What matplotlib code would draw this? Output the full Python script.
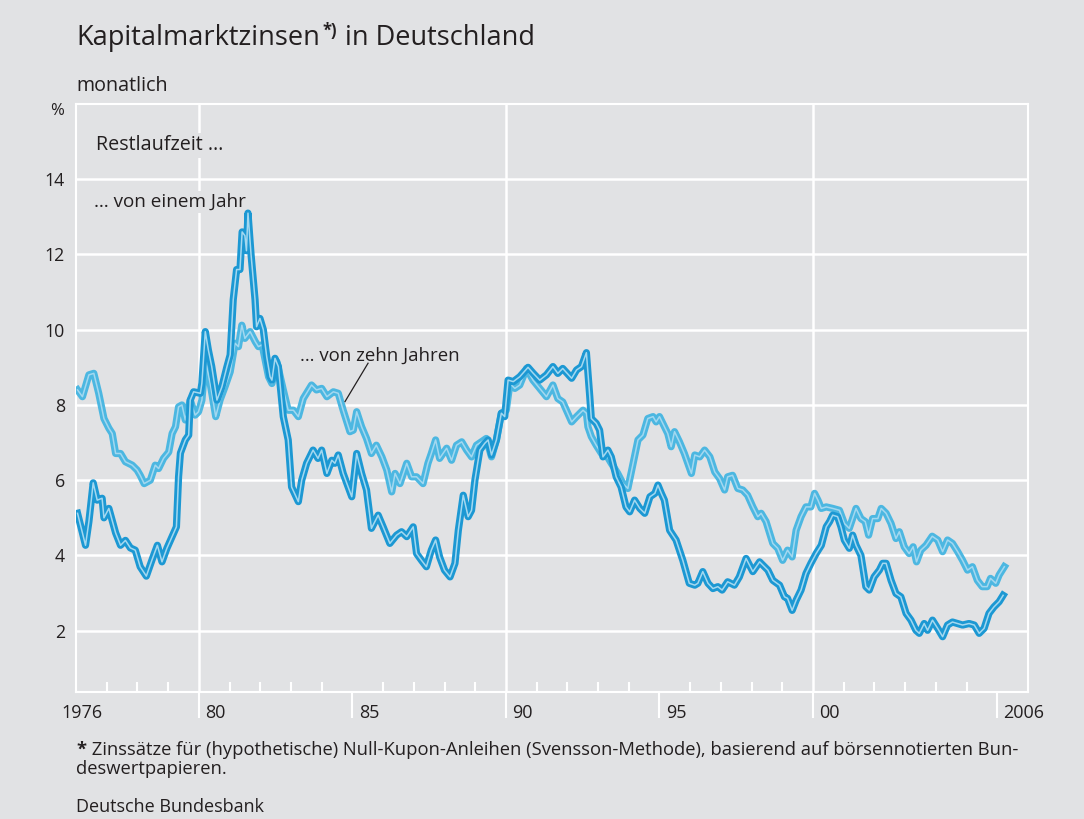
import matplotlib.pyplot as plt
from matplotlib.ticker import FixedLocator

plt.rcParams['font.family'] = ['Open Sans', 'DejaVu Sans']

# Restlaufzeit 1 Jahr (monatlich)
jahr_1j = [1976.05, 1976.31, 1976.42, 1976.56, 1976.69, 1976.85, 1976.91, 1977.07, 1977.29, 1977.45,
           1977.61, 1977.77, 1977.93, 1978.09, 1978.29, 1978.47, 1978.65, 1978.80, 1978.96, 1979.13,
           1979.27, 1979.34, 1979.40, 1979.56, 1979.67, 1979.72, 1979.83, 1980.05, 1980.10, 1980.21,
           1980.31, 1980.42, 1980.59, 1980.75, 1980.91, 1981.02, 1981.12, 1981.23, 1981.34, 1981.41,
           1981.50, 1981.55, 1981.60, 1981.70, 1981.83, 1981.88, 1981.99, 1982.10, 1982.21, 1982.32,
           1982.38, 1982.48, 1982.59, 1982.75, 1982.91, 1983.02, 1983.24, 1983.35, 1983.51, 1983.72,
           1983.88, 1984.00, 1984.17, 1984.33, 1984.43, 1984.54, 1984.70, 1984.98, 1985.14, 1985.30,
           1985.46, 1985.62, 1985.84, 1986.00, 1986.22, 1986.44, 1986.60, 1986.77, 1986.98, 1987.09,
           1987.25, 1987.41, 1987.57, 1987.71, 1987.84, 1988.00, 1988.18, 1988.34, 1988.45, 1988.61,
           1988.77, 1988.88, 1988.99, 1989.15, 1989.31, 1989.42, 1989.53, 1989.69, 1989.85, 1989.96,
           1990.07, 1990.24, 1990.45, 1990.72, 1990.88, 1991.10, 1991.32, 1991.53, 1991.69, 1991.85,
           1992.14, 1992.30, 1992.46, 1992.62, 1992.73, 1992.78, 1992.94, 1993.05, 1993.16, 1993.32,
           1993.43, 1993.59, 1993.75, 1993.91, 1994.03, 1994.19, 1994.36, 1994.52, 1994.69, 1994.85,
           1994.95, 1995.06, 1995.16, 1995.33, 1995.54, 1995.76, 1995.97, 1996.15, 1996.25, 1996.41,
           1996.58, 1996.74, 1996.90, 1997.04, 1997.22, 1997.44, 1997.60, 1997.82, 1998.04, 1998.26,
           1998.53, 1998.69, 1998.91, 1999.07, 1999.17, 1999.32, 1999.45, 1999.61, 1999.77, 1999.93,
           2000.10, 2000.27, 2000.43, 2000.54, 2000.64, 2000.80, 2000.91, 2001.02, 2001.18, 2001.29,
           2001.40, 2001.56, 2001.72, 2001.83, 2001.99, 2002.16, 2002.27, 2002.38, 2002.54, 2002.70,
           2002.86, 2003.03, 2003.19, 2003.35, 2003.46, 2003.62, 2003.73, 2003.89, 2004.06, 2004.22,
           2004.38, 2004.54, 2004.71, 2004.87, 2005.08, 2005.25, 2005.41, 2005.57, 2005.73, 2005.89,
           2006.06, 2006.19]
zins_1j = [5.12, 4.27, 4.90, 5.93, 5.47, 5.52, 5.00, 5.25, 4.60, 4.27,
           4.40, 4.20, 4.14, 3.70, 3.45, 3.87, 4.27, 3.83, 4.19, 4.50,
           4.76, 6.09, 6.72, 7.07, 7.20, 8.13, 8.35, 8.31, 8.58, 9.95,
           9.46, 9.02, 8.13, 8.48, 9.00, 9.33, 10.80, 11.60, 11.60, 12.60,
           12.50, 12.10, 13.10, 12.00, 10.80, 10.08, 10.30, 10.00, 9.28, 8.75,
           8.66, 9.24, 9.02, 7.69, 7.07, 5.82, 5.43, 6.00, 6.45, 6.80,
           6.58, 6.80, 6.18, 6.53, 6.45, 6.67, 6.18, 5.56, 6.71, 6.18,
           5.74, 4.72, 5.07, 4.76, 4.32, 4.54, 4.63, 4.50, 4.76, 4.05,
           3.87, 3.70, 4.14, 4.41, 3.96, 3.61, 3.43, 3.79, 4.67, 5.60,
           5.03, 5.20, 6.00, 6.80, 6.98, 7.07, 6.67, 7.07, 7.78, 7.69,
           8.66, 8.62, 8.75, 9.00, 8.85, 8.66, 8.80, 9.02, 8.84, 8.97,
           8.71, 8.93, 9.02, 9.39, 8.22, 7.64, 7.51, 7.33, 6.62, 6.80,
           6.62, 6.09, 5.82, 5.29, 5.16, 5.47, 5.25, 5.12, 5.56, 5.65,
           5.87, 5.65, 5.47, 4.67, 4.41, 3.87, 3.26, 3.21, 3.26, 3.57,
           3.26, 3.12, 3.17, 3.08, 3.30, 3.21, 3.43, 3.92, 3.57, 3.83,
           3.61, 3.34, 3.21, 2.90, 2.86, 2.54, 2.81, 3.08, 3.52, 3.79,
           4.05, 4.27, 4.76, 4.90, 5.07, 5.03, 4.76, 4.41, 4.19, 4.54,
           4.27, 4.00, 3.17, 3.08, 3.43, 3.61, 3.79, 3.79, 3.34, 2.99,
           2.90, 2.46, 2.28, 2.01, 1.93, 2.19, 2.01, 2.28, 2.06, 1.84,
           2.15, 2.23, 2.19, 2.15, 2.19, 2.15, 1.93, 2.06, 2.46, 2.63,
           2.77, 2.94]

# Restlaufzeit 10 Jahre
jahr_10j = [1976.05, 1976.21, 1976.42, 1976.58, 1976.74, 1976.91, 1977.07, 1977.18, 1977.29, 1977.45,
            1977.61, 1977.83, 1977.99, 1978.09, 1978.22, 1978.42, 1978.58, 1978.69, 1978.85, 1979.02,
            1979.13, 1979.24, 1979.34, 1979.45, 1979.56, 1979.72, 1979.88, 1979.99, 1980.10, 1980.21,
            1980.37, 1980.55, 1980.69, 1980.85, 1981.02, 1981.18, 1981.29, 1981.40, 1981.50, 1981.67,
            1981.84, 1981.94, 1982.06, 1982.27, 1982.38, 1982.54, 1982.75, 1982.91, 1983.08, 1983.24,
            1983.40, 1983.67, 1983.83, 1984.00, 1984.17, 1984.38, 1984.54, 1984.70, 1984.92, 1985.03,
            1985.14, 1985.30, 1985.46, 1985.62, 1985.78, 1985.96, 1986.12, 1986.28, 1986.39, 1986.55,
            1986.77, 1986.93, 1987.09, 1987.30, 1987.46, 1987.57, 1987.71, 1987.84, 1988.07, 1988.23,
            1988.39, 1988.56, 1988.72, 1988.88, 1989.04, 1989.20, 1989.36, 1989.53, 1989.69, 1989.85,
            1990.01, 1990.13, 1990.29, 1990.45, 1990.67, 1990.88, 1991.10, 1991.32, 1991.53, 1991.69,
            1991.85, 1992.14, 1992.30, 1992.51, 1992.62, 1992.67, 1992.78, 1992.94, 1993.11, 1993.27,
            1993.43, 1993.64, 1993.81, 1993.97, 1994.14, 1994.30, 1994.46, 1994.62, 1994.79, 1994.89,
            1995.00, 1995.16, 1995.27, 1995.38, 1995.49, 1995.65, 1995.81, 1996.04, 1996.15, 1996.31,
            1996.47, 1996.64, 1996.80, 1996.96, 1997.12, 1997.22, 1997.38, 1997.55, 1997.71, 1997.87,
            1998.04, 1998.20, 1998.31, 1998.47, 1998.69, 1998.85, 1999.01, 1999.17, 1999.32, 1999.45,
            1999.61, 1999.77, 1999.93, 2000.05, 2000.16, 2000.27, 2000.43, 2000.64, 2000.86, 2001.02,
            2001.18, 2001.40, 2001.56, 2001.70, 2001.81, 2001.94, 2002.11, 2002.22, 2002.38, 2002.54,
            2002.70, 2002.81, 2002.97, 2003.13, 2003.26, 2003.37, 2003.51, 2003.68, 2003.88, 2004.06,
            2004.22, 2004.38, 2004.54, 2004.71, 2004.87, 2005.03, 2005.19, 2005.35, 2005.51, 2005.67,
            2005.78, 2005.95, 2006.06, 2006.23]
zins_10j = [8.40, 8.22, 8.80, 8.84, 8.31, 7.64, 7.38, 7.24, 6.71, 6.71,
            6.49, 6.40, 6.27, 6.13, 5.91, 6.00, 6.40, 6.31, 6.58, 6.75,
            7.24, 7.42, 7.95, 8.00, 7.60, 8.13, 7.73, 7.82, 8.13, 9.20,
            8.57, 7.69, 8.13, 8.48, 8.88, 9.64, 9.55, 10.12, 9.77, 9.95,
            9.68, 9.55, 9.60, 8.75, 8.57, 9.15, 8.40, 7.86, 7.86, 7.69,
            8.17, 8.53, 8.40, 8.44, 8.22, 8.35, 8.31, 7.86, 7.29, 7.33,
            7.82, 7.42, 7.11, 6.71, 6.93, 6.62, 6.27, 5.69, 6.18, 5.91,
            6.45, 6.09, 6.09, 5.91, 6.45, 6.71, 7.07, 6.58, 6.85, 6.53,
            6.93, 7.02, 6.80, 6.62, 6.93, 7.02, 7.11, 6.62, 7.07, 7.78,
            7.86, 8.57, 8.44, 8.53, 8.97, 8.66, 8.44, 8.22, 8.53, 8.17,
            8.08, 7.55, 7.69, 7.86, 7.78, 7.42, 7.16, 6.93, 6.71, 6.67,
            6.45, 6.18, 5.91, 5.78, 6.45, 7.07, 7.20, 7.64, 7.69, 7.55,
            7.69, 7.42, 7.24, 6.89, 7.29, 7.02, 6.71, 6.18, 6.67, 6.62,
            6.80, 6.62, 6.22, 6.04, 5.74, 6.09, 6.13, 5.78, 5.74, 5.60,
            5.29, 5.03, 5.12, 4.90, 4.32, 4.19, 3.87, 4.14, 3.96, 4.67,
            5.03, 5.29, 5.29, 5.65, 5.47, 5.25, 5.29, 5.25, 5.20, 4.85,
            4.72, 5.25, 4.98, 4.90, 4.54, 4.98, 4.98, 5.25, 5.12, 4.85,
            4.45, 4.63, 4.23, 4.05, 4.23, 3.83, 4.14, 4.27, 4.51, 4.41,
            4.10, 4.41, 4.32, 4.10, 3.87, 3.61, 3.70, 3.34, 3.17, 3.17,
            3.39, 3.26, 3.48, 3.70]

ytick_werte = [2, 4, 6, 8, 10, 12, 14]
gitter_jahre = [1980, 1990, 2000]
haupt_ticks = [1980, 1985, 1990, 1995, 2000, 2006]
x_labels = {1980: '80', 1985: '85', 1990: '90', 1995: '95', 2000: '00', 2006: '2006'}

bg = '#e1e2e4'
txt = '#231f20'
col_1j = '#1c98d3'
col_10j = '#4cb7e1'

W, H = 1084, 819
fig = plt.figure(figsize=(W / 100, H / 100), dpi=100, facecolor=bg)
ax = fig.add_axes([76 / W, 1 - 692 / H, (1028 - 76) / W, (692 - 104) / H])
ax.set_facecolor(bg)
ax.set_xlim(1976, 2007)
ax.set_ylim(0.37, 16)

for s in ax.spines.values():
    s.set_color('white')
    s.set_linewidth(1.5)

# grid
for v in ytick_werte:
    ax.axhline(v, color='white', lw=1.8, zorder=1)
for j in gitter_jahre:
    ax.axvline(j, color='white', lw=1.8, zorder=1)

# ticks
ax.xaxis.set_major_locator(FixedLocator(haupt_ticks))
ax.xaxis.set_minor_locator(FixedLocator(list(range(1977, 2007))))
ax.tick_params(axis='x', which='major', direction='out', length=19, width=1.5, color='white', labelbottom=False)
ax.tick_params(axis='x', which='minor', direction='in', length=7, width=1.5, color='white')
ax.set_yticks(ytick_werte)
ax.set_yticklabels([str(v) for v in ytick_werte])
ax.tick_params(axis='y', length=0, pad=8, labelsize=12.8, labelcolor=txt)

# x labels next to ticks
for j, lab in x_labels.items():
    ax.annotate(lab, xy=(j, 0), xycoords=('data', 'axes fraction'), xytext=(4.5, -15),
                textcoords='offset points', ha='left', va='center', fontsize=13, color=txt)
ax.annotate('1976', xy=(1977, 0), xycoords=('data', 'axes fraction'), xytext=(-3, -15),
            textcoords='offset points', ha='right', va='center', fontsize=13, color=txt)

# lines: thick coloured stroke with lighter centre stripe
for xs, ys, c in [(jahr_10j, zins_10j, col_10j), (jahr_1j, zins_1j, col_1j)]:
    ax.plot(xs, ys, color=c, lw=5.2, solid_joinstyle='round', zorder=3)
    ax.plot(xs, ys, color='#a3d8f0', lw=1.1, solid_joinstyle='round', zorder=3)

# annotations inside plot (boxes hide the grid, but stay below the lines)
box = dict(facecolor=bg, edgecolor='none', pad=1.5)
ax.text(1976.65, 14.9, 'Restlaufzeit …', fontsize=14.2, color=txt, va='center', ha='left', bbox=box, zorder=2)
ax.text(1976.6, 13.4, '… von einem Jahr', fontsize=13.6, color=txt, va='center', ha='left', bbox=box, zorder=2)
ax.text(1983.3, 9.32, '… von zehn Jahren', fontsize=13.4, color=txt, va='center', ha='left', zorder=4)
ax.plot([1985.51, 1984.76], [9.11, 8.09], color=txt, lw=0.9, zorder=4)

# title with superscript
fig.canvas.draw()
r = fig.canvas.get_renderer()
t1 = fig.text(76 / W, 1 - 38 / H, 'Kapitalmarktzinsen', fontsize=19.5, color=txt, va='center', ha='left')
bb = t1.get_window_extent(r)
t2 = fig.text((bb.x1 + 3) / W, 1 - 31 / H, '*)', fontsize=12, fontweight='bold', color=txt, va='center', ha='left')
bb2 = t2.get_window_extent(r)
fig.text((bb2.x1 + 1) / W, 1 - 38 / H, ' in Deutschland', fontsize=19.5, color=txt, va='center', ha='left')

fig.text(76 / W, 1 - 86 / H, 'monatlich', fontsize=14.2, color=txt, va='center', ha='left')
fig.text(57 / W, 1 - 111 / H, '%', fontsize=12, color=txt, va='center', ha='center')

# footnote
t3 = fig.text(76 / W, 1 - 750 / H, '*', fontsize=13.2, fontweight='bold', color=txt, va='center', ha='left')
bb3 = t3.get_window_extent(r)
fig.text((bb3.x1 + 1) / W, 1 - 750 / H,
         ' Zinssätze für (hypothetische) Null-Kupon-Anleihen (Svensson-Methode), basierend auf börsennotierten Bun-',
         fontsize=13.2, color=txt, va='center', ha='left')
fig.text(76 / W, 1 - 769 / H, 'deswertpapieren.', fontsize=13.2, color=txt, va='center', ha='left')
fig.text(76 / W, 1 - 807 / H, 'Deutsche Bundesbank', fontsize=13, color=txt, va='center', ha='left')

fig.savefig('out.png', dpi=100, facecolor=bg)
